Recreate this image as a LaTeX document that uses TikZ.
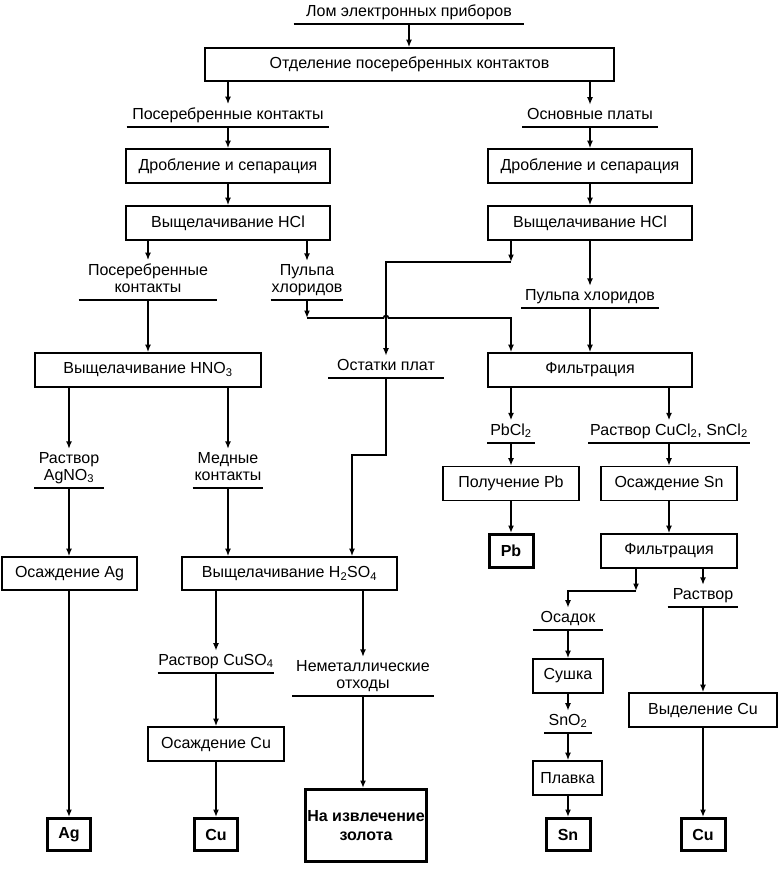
\documentclass[tikz,border=0pt]{standalone}
\usepackage{fontspec}
\setmainfont{Liberation Sans}
\usetikzlibrary{arrows.meta}
\newcommand\sbs[1]{\textsubscript{#1}}
\begin{document}
\begin{tikzpicture}[x=1pt,y=-1pt,line width=1.6pt,
  every node/.style={font=\fontsize{16}{17}\selectfont},
  box/.style={draw,minimum height=34pt,inner sep=0pt,line width=1.6pt},
  res/.style={draw,line width=3pt,inner sep=0pt,minimum height=32pt,font=\fontsize{16}{19}\selectfont\bfseries,align=center},
  lab/.style={anchor=south,inner xsep=0pt,inner ysep=2.5pt,text depth=4.5pt,align=center},
  arr/.style={-{Latex[length=7.5pt,width=6pt]}}]
\useasboundingbox (0,0) rectangle (778,873);
% boxes
\node[box,minimum width=409pt,minimum height=33pt] (otd) at (409.5,64.5) {Отделение посеребренных контактов};
\node[box,minimum width=204pt] (dr1) at (228,166) {Дробление и сепарация};
\node[box,minimum width=204pt] (hcl1) at (228,223) {Выщелачивание HCl};
\node[box,minimum width=204pt] (dr2) at (590,166) {Дробление и сепарация};
\node[box,minimum width=204pt] (hcl2) at (590,223) {Выщелачивание HCl};
\node[box,minimum width=226pt] (hno) at (148,370) {Выщелачивание HNO\sbs{3}};
\node[box,minimum width=204pt] (fil1) at (590,370) {Фильтрация};
\node[box,minimum width=135pt,minimum height=33pt] (osAg) at (69.5,573.5) {Осаждение Ag};
\node[box,minimum width=215pt,minimum height=33pt] (hso) at (289.5,573.5) {Выщелачивание H\sbs{2}SO\sbs{4}};
\node[box,minimum width=136pt] (polPb) at (511,483.5) {Получение Pb};
\node[box,minimum width=136pt] (osSn) at (669,483.5) {Осаждение Sn};
\node[res,minimum width=44pt,minimum height=33pt] (Pb) at (511,551) {Pb};
\node[box,minimum width=136pt] (fil2) at (669,551) {Фильтрация};
\node[box,minimum width=70pt] (sush) at (568,676) {Сушка};
\node[box,minimum width=69pt] (plav) at (567.5,778) {Плавка};
\node[res,minimum width=44pt] (Sn) at (568,834.5) {Sn};
\node[box,minimum width=148pt] (vydCu) at (703,710) {Выделение Cu};
\node[res,minimum width=44pt] (Cu2) at (703,834.5) {Cu};
\node[res,minimum width=43pt] (Ag) at (69,834.5) {Ag};
\node[box,minimum width=136pt] (osCu) at (216,744) {Осаждение Cu};
\node[res,minimum width=43pt] (Cu1) at (216,834.5) {Cu};
\node[res,minimum width=121pt,minimum height=72pt] (gold) at (366,825.5) {На извлечение\\золота};
% labels
\node[lab,minimum width=229pt] (lom) at (409,24) {Лом электронных приборов};
\node[lab,minimum width=201pt] (pk1) at (228,127) {Посеребренные контакты};
\node[lab,minimum width=134pt] (osn) at (590,127) {Основные платы};
\node[lab,minimum width=137pt] (pk2) at (148,300) {Посеребренные\\контакты};
\node[lab,minimum width=69pt] (pul1) at (307,300) {Пульпа\\хлоридов};
\node[lab,minimum width=136pt] (pul2) at (590,308) {Пульпа хлоридов};
\node[lab,minimum width=114pt] (ost) at (386,378) {Остатки плат};
\node[lab,minimum width=68pt] (agno) at (69,488) {Раствор\\AgNO\sbs{3}};
\node[lab,minimum width=69pt] (med) at (228,488) {Медные\\контакты};
\node[lab,minimum width=46pt] (pbcl) at (511,443) {PbCl\sbs{2}};
\node[lab,minimum width=160pt] (rcu) at (669,443) {Раствор CuCl\sbs{2}, SnCl\sbs{2}};
\node[lab,minimum width=69pt] (osad) at (568,630) {Осадок};
\node[lab,minimum width=69pt] (rast) at (703,607) {Раствор};
\node[lab,minimum width=46pt] (sno) at (568,733) {SnO\sbs{2}};
\node[lab,minimum width=114pt] (cuso) at (216,673) {Раствор CuSO\sbs{4}};
\node[lab,minimum width=140pt] (nem) at (363,696) {Неметаллические\\отходы};
\foreach \n in {lom,pk1,osn,pk2,pul1,pul2,ost,agno,med,pbcl,rcu,osad,rast,sno,cuso,nem}
  \draw (\n.south west) -- (\n.south east);
% junction coordinates
\coordinate (j1) at (307,318);
\coordinate (j2) at (511,318);
\coordinate (j3) at (511,262);
\coordinate (j4) at (386,262);
\coordinate (j5) at (386,455);
\coordinate (j6) at (352,455);
\coordinate (j7) at (636,591);
\coordinate (j8) at (568,591);
% connectors
\draw[arr] (lom.south) -- (otd.north -| lom.south);
\draw[arr] (otd.south -| pk1.north) -- (pk1.north);
\draw[arr] (otd.south -| osn.north) -- (osn.north);
\draw[arr] (pk1.south) -- (dr1.north -| pk1.south);
\draw[arr] (dr1) -- (hcl1);
\draw[arr] (osn.south) -- (dr2.north -| osn.south);
\draw[arr] (dr2) -- (hcl2);
\draw[arr] (hcl1.south -| pk2.north) -- (pk2.north);
\draw[arr] (hcl1.south -| pul1.north) -- (pul1.north);
\draw[arr] (pk2.south) -- (hno.north -| pk2.south);
\draw[arr] (pul1.south) -- (j1);
\draw[arr] (j1) -- (383.5,318) arc[start angle=180,end angle=360,radius=2.5] -- (j2) -- (fil1.north -| j2);
\draw[arr] (hcl2.south -| j3) -- (j3);
\draw[arr] (j3) -- (j4) -- (ost.north);
\draw[arr] (hcl2.south -| pul2.north) -- (pul2.north);
\draw[arr] (pul2.south) -- (fil1.north -| pul2.south);
\draw[arr] (hno.south -| agno.north) -- (agno.north);
\draw[arr] (hno.south -| med.north) -- (med.north);
\draw[arr] (agno.south) -- (osAg.north -| agno.south);
\draw[arr] (med.south) -- (hso.north -| med.south);
\draw[arr] (ost.south) -- (j5) -- (j6) -- (hso.north -| j6);
\draw[arr] (osAg.south -| Ag.north) -- (Ag.north);
\draw[arr] (hso.south -| cuso.north) -- (cuso.north);
\draw[arr] (hso.south -| nem.north) -- (nem.north);
\draw[arr] (cuso.south) -- (osCu.north -| cuso.south);
\draw[arr] (osCu) -- (Cu1);
\draw[arr] (nem.south) -- (gold.north -| nem.south);
\draw[arr] (fil1.south -| pbcl.north) -- (pbcl.north);
\draw[arr] (fil1.south -| rcu.north) -- (rcu.north);
\draw[arr] (pbcl.south) -- (polPb.north -| pbcl.south);
\draw[arr] (rcu.south) -- (osSn.north -| rcu.south);
\draw[arr] (polPb.south -| Pb.north) -- (Pb.north);
\draw[arr] (osSn) -- (fil2);
\draw[arr] (fil2.south -| j7) -- (j7);
\draw[arr] (j7) -- (j8) -- (osad.north);
\draw[arr] (fil2.south -| rast.north) -- (rast.north);
\draw[arr] (osad.south) -- (sush.north -| osad.south);
\draw[arr] (sush.south -| sno.north) -- (sno.north);
\draw[arr] (sno.south) -- (plav.north -| sno.south);
\draw[arr] (plav.south -| Sn.north) -- (Sn.north);
\draw[arr] (rast.south) -- (vydCu.north -| rast.south);
\draw[arr] (vydCu.south -| Cu2.north) -- (Cu2.north);
\end{tikzpicture}
\end{document}
